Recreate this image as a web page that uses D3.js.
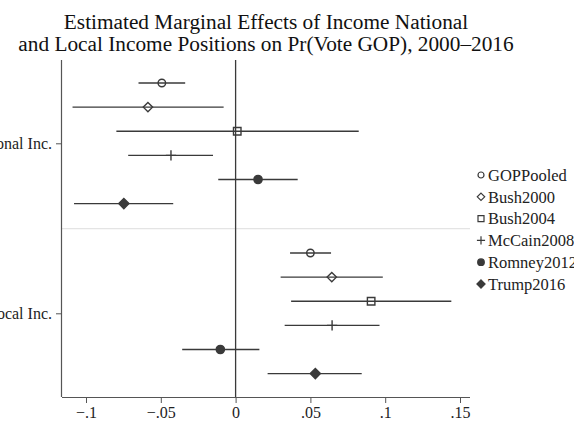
<!DOCTYPE html>
<html>
<head>
<meta charset="utf-8">
<script src="https://cdn.jsdelivr.net/npm/d3@7"></script>
<style>
  body { margin: 0; background: #fff; }
  svg { display: block; font-family: "Liberation Serif", "Times New Roman", serif; }
</style>
</head>
<body>
<div id="chart"></div>
<script>
// data
const groups = ["National Inc.", "Local Inc."];
const series = ["GOPPooled", "Bush2000", "Bush2004", "McCain2008", "Romney2012", "Trump2016"];
const nationalEst = [-0.0493, -0.0586, 0.0011, -0.0432, 0.0150, -0.0747];
const nationalLo  = [-0.0649, -0.1090, -0.0797, -0.0718, -0.0116, -0.1080];
const nationalHi  = [-0.0337, -0.0080, 0.0823, -0.0151, 0.0415, -0.0417];
const localEst = [0.0500, 0.0643, 0.0906, 0.0645, -0.0102, 0.0533];
const localLo  = [0.0364, 0.0301, 0.0371, 0.0328, -0.0357, 0.0214];
const localHi  = [0.0638, 0.0984, 0.1442, 0.0962, 0.0159, 0.0843];
const xTicks = [-0.1, -0.05, 0, 0.05, 0.1, 0.15];
const xTickLabels = ["\u2212.1", "\u2212.05", "0", ".05", ".1", ".15"];
const titleLines = ["Estimated Marginal Effects of Income National",
                    "and Local Income Positions on Pr(Vote GOP), 2000\u20132016"];

const width = 574, height = 421;
const plot = { left: 62, right: 470, top: 60, bottom: 397 };
const serif = "'Liberation Serif', 'Times New Roman', serif";

const svg = d3.select("#chart").append("svg")
  .attr("width", width)
  .attr("height", height);

const x = d3.scaleLinear().domain([-0.1, 0.15]).range([86, 460]);
const y = d3.scalePoint().domain(groups).range([143.3, 313.3]);
const yOff = d3.scalePoint().domain(series).range([-60.3, 60.3]);

const rows = [];
series.forEach((s, i) => {
  rows.push({ group: groups[0], name: s, est: nationalEst[i], lo: nationalLo[i], hi: nationalHi[i] });
  rows.push({ group: groups[1], name: s, est: localEst[i], lo: localLo[i], hi: localHi[i] });
});

const ink = "#3a3a3a";

// marker shapes, one per series
function marker(name, s) {
  switch (name) {
    case "GOPPooled": return { d: d3.arc()({ innerRadius: 0, outerRadius: s * 0.5, startAngle: 0, endAngle: 2 * Math.PI }), fill: "none" };
    case "Bush2000": { const r = s * 0.62; return { d: `M0,${-r}L${r},0L0,${r}L${-r},0Z`, fill: "none" }; }
    case "Bush2004": { const h = s * 0.5; return { d: `M${-h},${-h}H${h}V${h}H${-h}Z`, fill: "none" }; }
    case "McCain2008": { const h = s * 0.68; return { d: `M${-h},0H${h}M0,${-h}V${h}`, fill: "none" }; }
    case "Romney2012": return { d: d3.arc()({ innerRadius: 0, outerRadius: s * 0.55, startAngle: 0, endAngle: 2 * Math.PI }), fill: ink };
    default: { const r = s * 0.68; return { d: `M0,${-r}L${r},0L0,${r}L${-r},0Z`, fill: ink }; }
  }
}

// separator between the two groups
svg.append("line")
  .attr("x1", plot.left).attr("x2", plot.right)
  .attr("y1", 228.6).attr("y2", 228.6)
  .attr("stroke", "#e4e4e4").attr("stroke-width", 1.4);

// zero reference line
svg.append("line")
  .attr("x1", x(0)).attr("x2", x(0))
  .attr("y1", plot.top).attr("y2", plot.bottom)
  .attr("stroke", ink).attr("stroke-width", 1.3);

// x axis
const xAxis = svg.append("g")
  .attr("transform", `translate(0,${plot.bottom})`)
  .call(d3.axisBottom(x).tickValues(xTicks).tickSize(6).tickFormat((d, i) => xTickLabels[i]));
xAxis.select(".domain").attr("d", `M${plot.left},0.5H${plot.right}`).attr("stroke", "#555").attr("stroke-width", 1.2);
xAxis.selectAll(".tick line").attr("stroke", "#555");
xAxis.selectAll(".tick text")
  .attr("font-family", serif).attr("font-size", 16).attr("fill", "#222")
  .attr("y", 20.5).attr("dy", null);

// y axis
const yAxis = svg.append("g")
  .attr("transform", `translate(${plot.left},0)`)
  .call(d3.axisLeft(y).tickSize(6).tickPadding(4));
yAxis.select(".domain").attr("d", `M-0.5,${plot.top}V${plot.bottom}`).attr("stroke", "#555").attr("stroke-width", 1.2);
yAxis.selectAll(".tick line").attr("stroke", "#555");
yAxis.selectAll(".tick text")
  .attr("font-family", serif).attr("font-size", 16).attr("fill", "#222");

// confidence intervals
svg.append("g").selectAll("line")
  .data(rows)
  .join("line")
  .attr("x1", d => x(d.lo)).attr("x2", d => x(d.hi))
  .attr("y1", d => y(d.group) + yOff(d.name)).attr("y2", d => y(d.group) + yOff(d.name))
  .attr("stroke", ink).attr("stroke-width", 1.3);

// point estimates
svg.append("g").selectAll("path")
  .data(rows)
  .join("path")
  .attr("transform", d => `translate(${x(d.est)},${y(d.group) + yOff(d.name)})`)
  .each(function (d) {
    const m = marker(d.name, 7.5);
    d3.select(this).attr("d", m.d).attr("fill", m.fill)
      .attr("stroke", ink).attr("stroke-width", 1.4);
  });

// legend
const legend = svg.append("g").selectAll("g")
  .data(series)
  .join("g")
  .attr("transform", (d, i) => `translate(481,${175 + i * 21.8})`);

legend.append("path")
  .each(function (d) {
    const m = marker(d, 6);
    d3.select(this).attr("d", m.d).attr("fill", m.fill)
      .attr("stroke", ink).attr("stroke-width", 1.2);
  });

legend.append("text")
  .attr("x", 7)
  .attr("dy", "0.35em")
  .attr("font-family", serif)
  .attr("font-size", 16.5)
  .attr("fill", "#222")
  .text(d => d);

// title
svg.append("g").selectAll("text")
  .data(titleLines)
  .join("text")
  .attr("x", 266)
  .attr("y", (d, i) => 29 + i * 21.5)
  .attr("text-anchor", "middle")
  .attr("font-family", serif)
  .attr("font-size", 21.3)
  .attr("fill", "#111")
  .text(d => d);
</script>
</body>
</html>
